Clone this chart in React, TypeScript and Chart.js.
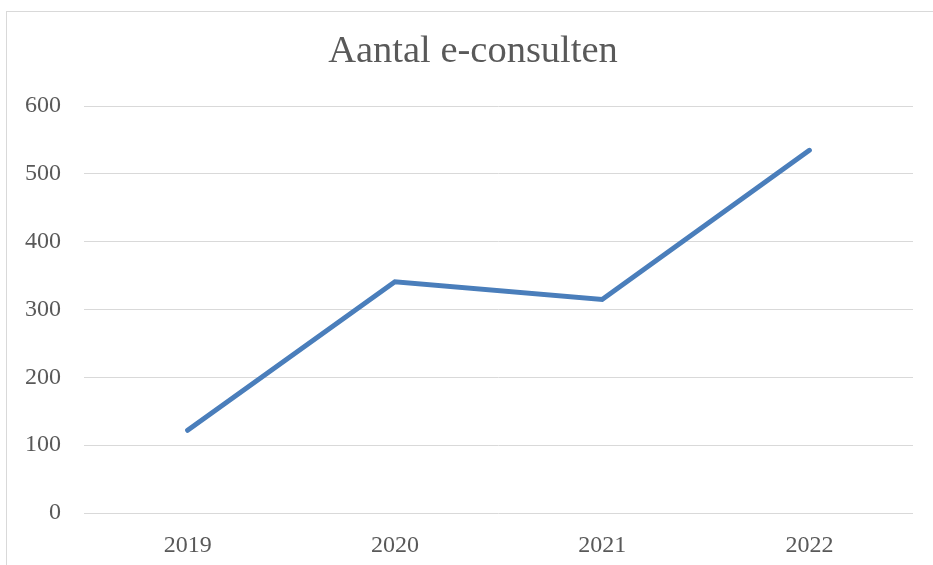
import React, { useEffect, useRef } from "react";
import { Chart, registerables } from "chart.js";

Chart.register(...registerables);

const title = "Aantal e-consulten";
const years = ["2019", "2020", "2021", "2022"];
const consults = [122, 341, 315, 535];
const yTicks = [0, 100, 200, 300, 400, 500, 600];

export default function App() {
  const ref = useRef<HTMLCanvasElement>(null);
  useEffect(() => {
    document.body.style.margin = "0";
    const chart = new Chart(ref.current!, {
      type: "line",
      data: {
        labels: years,
        datasets: [
          {
            data: consults,
            borderColor: "#4A7EBB",
            backgroundColor: "#4A7EBB",
            borderWidth: 5,
            borderCapStyle: "round",
            borderJoinStyle: "miter",
            pointRadius: 0,
            tension: 0,
            yAxisID: "y",
          },
        ],
      },
      options: {
        animation: false,
        responsive: false,
        layout: { padding: { left: 13, right: 0, top: 0, bottom: 0 } },
        plugins: {
          legend: { display: false },
          tooltip: { enabled: false },
          title: {
            display: true,
            text: title,
            color: "#595959",
            font: { family: "Liberation Serif", size: 38.5, weight: "normal" },
            padding: { top: 29, bottom: 31 },
          },
        },
        scales: {
          x: {
            type: "category",
            offset: true,
            grid: { display: false },
            border: { display: false },
            ticks: {
              color: "#595959",
              font: { family: "Liberation Serif", size: 24 },
              padding: 10,
            },
            afterFit: (s: any) => {
              s.height = 52;
            },
          },
          y: {
            min: 0,
            max: 600,
            afterBuildTicks: (s: any) => {
              s.ticks = yTicks.map((v) => ({ value: v }));
            },
            grid: { color: "#d9d9d9", lineWidth: 1, drawTicks: false },
            border: { display: false },
            ticks: {
              color: "#595959",
              font: { family: "Liberation Serif", size: 24 },
              padding: 23,
            },
            afterFit: (s: any) => {
              s.width = 71;
            },
          },
          yRight: {
            position: "right",
            min: 0,
            max: 600,
            grid: { display: false, drawTicks: false },
            border: { display: false },
            ticks: { display: false },
            afterFit: (s: any) => {
              s.width = 20;
            },
          },
        },
      },
    });
    return () => chart.destroy();
  }, []);
  return (
    <div style={{ position: "relative", width: 933, height: 565, overflow: "hidden" }}>
      <canvas ref={ref} width={933} height={565} style={{ position: "absolute", left: 0, top: 0 }} />
      <div
        style={{
          position: "absolute",
          left: 6,
          top: 11,
          right: 0,
          bottom: 0,
          borderLeft: "1px solid #d9d9d9",
          borderTop: "1px solid #d9d9d9",
          pointerEvents: "none",
        }}
      />
    </div>
  );
}
